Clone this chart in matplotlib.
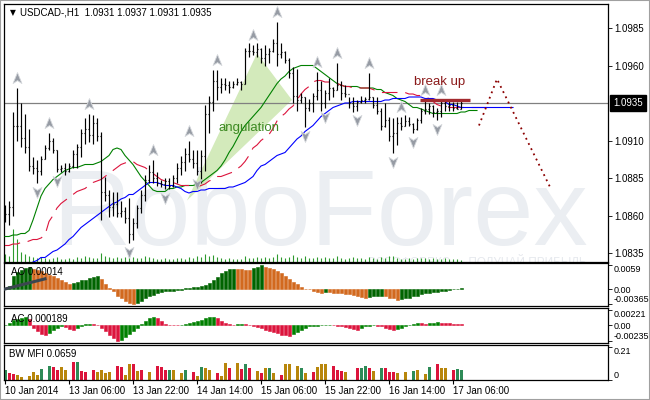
import matplotlib

matplotlib.use("Agg")

import matplotlib.pyplot as plt
import numpy as np
from matplotlib.patches import Polygon, Rectangle
from matplotlib.path import Path
from matplotlib.transforms import blended_transform_factory

# ---- price bars (H1, 10 Jan 14:00 .. 17 Jan 08:00) ----
first_open = 1.0858
highs = [
    1.0867, 1.0870, 1.0929, 1.0945, 1.0935, 1.0928, 1.0918, 1.0899, 1.0897, 1.0900,
    1.0907, 1.0915, 1.0912, 1.0904, 1.0894, 1.0895, 1.0895, 1.0904, 1.0908, 1.0918,
    1.0925, 1.0928, 1.0927, 1.0925, 1.0916, 1.0886, 1.0877, 1.0876, 1.0876, 1.0870,
    1.0866, 1.0872, 1.0858, 1.0867, 1.0877, 1.0887, 1.0894, 1.0897, 1.0889, 1.0884,
    1.0885, 1.0885, 1.0887, 1.0895, 1.0900, 1.0905, 1.0910, 1.0904, 1.0904, 1.0904,
    1.0934, 1.0940, 1.0957, 1.0957, 1.0952, 1.0952, 1.0950, 1.0950, 1.0952, 1.0950,
    1.0972, 1.0975, 1.0974, 1.0975, 1.0972, 1.0974, 1.0972, 1.0978, 1.0989, 1.0975,
    1.0970, 1.0965, 1.0959, 1.0958, 1.0942, 1.0939, 1.0938, 1.0942, 1.0956, 1.0950,
    1.0944, 1.0952, 1.0946, 1.0962, 1.0950, 1.0947, 1.0939, 1.0939, 1.0937, 1.0940,
    1.0939, 1.0955, 1.0939, 1.0939, 1.0932, 1.0935, 1.0926, 1.0925, 1.0926, 1.0926,
    1.0927, 1.0926, 1.0922, 1.0925, 1.0932, 1.0937, 1.0935, 1.0934, 1.0932, 1.0937,
    1.0937, 1.0937, 1.0936, 1.0936, 1.0937,
]
lows = [
    1.0856, 1.0854, 1.0860, 1.0910, 1.0906, 1.0902, 1.0890, 1.0888, 1.0882, 1.0887,
    1.0898, 1.0904, 1.0902, 1.0889, 1.0889, 1.0887, 1.0889, 1.0892, 1.0892, 1.0899,
    1.0908, 1.0909, 1.0908, 1.0910, 1.0857, 1.0870, 1.0859, 1.0860, 1.0859, 1.0859,
    1.0855, 1.0842, 1.0844, 1.0852, 1.0862, 1.0870, 1.0882, 1.0882, 1.0880, 1.0879,
    1.0878, 1.0878, 1.0879, 1.0882, 1.0887, 1.0890, 1.0896, 1.0892, 1.0887, 1.0882,
    1.0890, 1.0915, 1.0930, 1.0937, 1.0942, 1.0944, 1.0942, 1.0945, 1.0947, 1.0944,
    1.0948, 1.0966, 1.0967, 1.0966, 1.0962, 1.0960, 1.0962, 1.0969, 1.0960, 1.0965,
    1.0962, 1.0952, 1.0935, 1.0930, 1.0935, 1.0919, 1.0930, 1.0929, 1.0937, 1.0930,
    1.0932, 1.0937, 1.0939, 1.0944, 1.0937, 1.0939, 1.0932, 1.0929, 1.0930, 1.0935,
    1.0935, 1.0937, 1.0932, 1.0928, 1.0917, 1.0919, 1.0910, 1.0902, 1.0907, 1.0917,
    1.0920, 1.0920, 1.0915, 1.0917, 1.0922, 1.0928, 1.0928, 1.0926, 1.0924, 1.0926,
    1.0930, 1.0930, 1.0930, 1.0931, 1.0931,
]
closes = [
    1.0861, 1.0866, 1.0920, 1.0920, 1.0912, 1.0906, 1.0893, 1.0892, 1.0890, 1.0898,
    1.0905, 1.0910, 1.0904, 1.0891, 1.0892, 1.0890, 1.0893, 1.0901, 1.0906, 1.0915,
    1.0918, 1.0914, 1.0922, 1.0913, 1.0876, 1.0874, 1.0866, 1.0868, 1.0862, 1.0863,
    1.0858, 1.0848, 1.0855, 1.0865, 1.0874, 1.0884, 1.0889, 1.0885, 1.0882, 1.0881,
    1.0883, 1.0880, 1.0885, 1.0892, 1.0896, 1.0901, 1.0898, 1.0895, 1.0890, 1.0900,
    1.0928, 1.0936, 1.0950, 1.0946, 1.0948, 1.0947, 1.0946, 1.0948, 1.0949, 1.0948,
    1.0970, 1.0970, 1.0969, 1.0971, 1.0965, 1.0968, 1.0970, 1.0975, 1.0968, 1.0969,
    1.0964, 1.0955, 1.0940, 1.0937, 1.0939, 1.0932, 1.0935, 1.0940, 1.0944, 1.0935,
    1.0942, 1.0945, 1.0944, 1.0947, 1.0942, 1.0941, 1.0935, 1.0933, 1.0936, 1.0937,
    1.0938, 1.0939, 1.0934, 1.0930, 1.0920, 1.0924, 1.0913, 1.0915, 1.0922, 1.0920,
    1.0923, 1.0921, 1.0918, 1.0924, 1.0930, 1.0931, 1.0933, 1.0929, 1.0930, 1.0935,
    1.0933, 1.0934, 1.0932, 1.0931, 1.0935,
]
tick_volume = [
    8, 6, 33, 23, 10, 8, 6, 5, 4, 5,
    4, 3, 4, 5, 3, 3, 4, 3, 5, 4,
    6, 5, 4, 4, 9, 6, 5, 4, 5, 4,
    5, 6, 5, 4, 4, 6, 5, 4, 3, 3,
    4, 3, 3, 4, 4, 3, 5, 4, 6, 5,
    8, 6, 7, 5, 4, 3, 4, 3, 3, 3,
    6, 4, 4, 5, 4, 5, 4, 5, 8, 5,
    4, 5, 7, 5, 4, 6, 4, 4, 5, 4,
    5, 4, 4, 6, 4, 3, 4, 5, 4, 4,
    3, 5, 4, 3, 5, 4, 6, 6, 4, 3,
    3, 4, 3, 4, 4, 4, 3, 4, 3, 3,
    4, 3, 3, 3, 2,
]

# ---- alligator lines (already shifted forward) ----
lips = [
    1.0846, 1.0846, 1.0847, 1.0847, 1.0848, 1.0848, 1.0850, 1.0857, 1.0865, 1.0873,
    1.0878, 1.0881, 1.0884, 1.0886, 1.0888, 1.0890, 1.0891, 1.0892, 1.0892, 1.0893,
    1.0894, 1.0894, 1.0894, 1.0895, 1.0896, 1.0898, 1.0900, 1.0904, 1.0905, 1.0904,
    1.0900, 1.0897, 1.0894, 1.0890, 1.0886, 1.0883, 1.0880, 1.0877, 1.0876, 1.0876,
    1.0876, 1.0878, 1.0878, 1.0879, 1.0879, 1.0880, 1.0880, 1.0880, 1.0881, 1.0882,
    1.0884, 1.0886, 1.0888, 1.0890, 1.0893, 1.0897, 1.0902, 1.0906, 1.0911, 1.0916,
    1.0920, 1.0923, 1.0926, 1.0929, 1.0932, 1.0936, 1.0940, 1.0944, 1.0948, 1.0951,
    1.0953, 1.0956, 1.0958, 1.0959, 1.0960, 1.0960, 1.0960, 1.0960, 1.0958, 1.0956,
    1.0954, 1.0952, 1.0950, 1.0948, 1.0947, 1.0946, 1.0946, 1.0946, 1.0946, 1.0945,
    1.0945, 1.0945, 1.0945, 1.0944, 1.0944, 1.0942, 1.0941, 1.0940, 1.0938, 1.0937,
    1.0936, 1.0934, 1.0932, 1.0932, 1.0931, 1.0930, 1.0929, 1.0928, 1.0928, 1.0928,
    1.0928, 1.0928, 1.0928, 1.0928, 1.0929, 1.0929, 1.0930, 1.0930, 1.0930,
]
teeth = [
    1.0840, 1.0840, 1.0841, 1.0841, 1.0842, 1.0842, 1.0843, 1.0844, 1.0844, 1.0845,
    1.0847, 1.0856, 1.0860, 1.0865, 1.0868, 1.0870, 1.0872, 1.0874, 1.0876, 1.0877,
    1.0878, 1.0880, 1.0882, 1.0883, 1.0884, 1.0886, 1.0888, 1.0890, 1.0892, 1.0894,
    1.0895, 1.0896, 1.0896, 1.0894, 1.0893, 1.0892, 1.0890, 1.0888, 1.0886, 1.0884,
    1.0883, 1.0882, 1.0882, 1.0881, 1.0880, 1.0880, 1.0880, 1.0879, 1.0879, 1.0880,
    1.0881, 1.0883, 1.0884, 1.0886, 1.0886, 1.0887, 1.0888, 1.0889, 1.0891, 1.0893,
    1.0896, 1.0900, 1.0905, 1.0907, 1.0910, 1.0912, 1.0914, 1.0918, 1.0923, 1.0926,
    1.0928, 1.0931, 1.0933, 1.0937, 1.0941, 1.0944, 1.0946, 1.0949, 1.0950, 1.0950,
    1.0949, 1.0949, 1.0948, 1.0948, 1.0947, 1.0946, 1.0946, 1.0945, 1.0945, 1.0945,
    1.0945, 1.0945, 1.0944, 1.0943, 1.0942, 1.0942, 1.0942, 1.0942, 1.0942, 1.0942,
    1.0942, 1.0941, 1.0941, 1.0940, 1.0940, 1.0939, 1.0938, 1.0936, 1.0934, 1.0933,
    1.0932, 1.0932, 1.0932, 1.0932, 1.0932, 1.0932, 1.0932, 1.0932, 1.0932, 1.0932,
    1.0932, 1.0932,
]
jaw_start = 7
jaw = [
    1.0829, 1.0830, 1.0832, 1.0832, 1.0834, 1.0836, 1.0837, 1.0839, 1.0841, 1.0844,
    1.0846, 1.0849, 1.0852, 1.0854, 1.0856, 1.0858, 1.0860, 1.0862, 1.0864, 1.0866,
    1.0868, 1.0869, 1.0871, 1.0872, 1.0874, 1.0874, 1.0876, 1.0878, 1.0880, 1.0882,
    1.0882, 1.0882, 1.0881, 1.0880, 1.0880, 1.0880, 1.0879, 1.0878, 1.0876, 1.0875,
    1.0876, 1.0876, 1.0877, 1.0877, 1.0878, 1.0878, 1.0878, 1.0878, 1.0878, 1.0879,
    1.0879, 1.0880, 1.0881, 1.0882, 1.0884, 1.0886, 1.0890, 1.0893, 1.0894, 1.0896,
    1.0898, 1.0900, 1.0901, 1.0902, 1.0905, 1.0908, 1.0911, 1.0913, 1.0916, 1.0918,
    1.0920, 1.0923, 1.0926, 1.0928, 1.0930, 1.0932, 1.0933, 1.0934, 1.0935, 1.0935,
    1.0936, 1.0936, 1.0936, 1.0936, 1.0936, 1.0936, 1.0936, 1.0936, 1.0937, 1.0937,
    1.0938, 1.0938, 1.0938, 1.0938, 1.0939, 1.0939, 1.0939, 1.0939, 1.0938, 1.0938,
    1.0938, 1.0937, 1.0936, 1.0936, 1.0934, 1.0934, 1.0933, 1.0932,
    1.0932, 1.0932, 1.0932, 1.0932, 1.0932, 1.0932, 1.0932, 1.0932, 1.0932, 1.0932,
    1.0932, 1.0932, 1.0932,
]

# ---- fractals (bar indices) ----
up_fractals = [3, 11, 21, 37, 46, 53, 62, 68, 78, 83, 91, 99, 105, 109]
down_fractals = [8, 13, 31, 40, 48, 75, 80, 88, 97, 102, 108]

# ---- oscillators ----
ao = [
    0.0003, 0.0008, 0.0031, 0.0043, 0.0047, 0.0052, 0.0055, 0.0050, 0.0047, 0.0044,
    0.0039, 0.0034, 0.0031, 0.0026, 0.0022, 0.0018, 0.0013, 0.0016, 0.0018, 0.0021,
    0.0023, 0.0026, 0.0029, 0.0033, 0.0025, 0.0013, 0.0003, -0.0005, -0.0018, -0.0023,
    -0.0030, -0.0034, -0.00365, -0.0034, -0.0030, -0.0023, -0.0017, -0.0014, -0.0010, -0.0008,
    -0.0006, -0.0005, -0.00045, -0.0003, -0.0002, 0.0002, 0.0003, 0.0004, 0.0005, 0.0007,
    0.0010, 0.0016, 0.0022, 0.0030, 0.0039, 0.0045, 0.0049, 0.0050, 0.0049, 0.00485,
    0.0048, 0.00475, 0.0051, 0.0055, 0.0059, 0.0054, 0.0052, 0.0049, 0.0045, 0.0039,
    0.0031, 0.0025, 0.0018, 0.0012, 0.0005, 0.0001, -0.0001, -0.0004, -0.0008, -0.0009,
    -0.0008, -0.00085, -0.00095, -0.0010, -0.0011, -0.0012, -0.0013, -0.00155, -0.0018, -0.0020,
    -0.0022, -0.0020, -0.0018, -0.00165, -0.0016, -0.0018, -0.0021, -0.0023, -0.0026, -0.0025,
    -0.0023, -0.0021, -0.0018, -0.0016, -0.0013, -0.0011, -0.00095, -0.0008, -0.00065, -0.0005,
    -0.0004, -0.00025, -0.00012, 0.00002, 0.00014,
]
ac = [
    0.00007, 0.0003, 0.0007, 0.0009, 0.0010, 0.0012, 0.0009, -0.0004, -0.0009, -0.0013,
    -0.0015, -0.0012, -0.0007, -0.0004, -0.0002, -0.0003, -0.0006, -0.0007, -0.0004, -0.0002,
    0.0001, 0.0002, 0.00015, 0.00005, -0.0004, -0.0009, -0.0015, -0.0019, -0.00235, -0.0022,
    -0.0018, -0.0013, -0.0009, -0.0004, 0.00015, 0.0006, 0.0010, 0.0012, 0.0010, 0.0006,
    0.00015, 0.00004, 0.00003, 0.00002, 0.00007, 0.00015, 0.0003, 0.00045, 0.00065, 0.0008,
    0.0010, 0.0012, 0.00125, 0.0010, 0.00065, 0.00035, 0.00015, 0.00007, 0.00015, 0.00018,
    0.00012, 0.00004, -0.00015, -0.0003, -0.0005, -0.0007, -0.0009, -0.0010, -0.0012, -0.0014,
    -0.0015, -0.0016, -0.0013, -0.0010, -0.0007, -0.0004, -0.0002, -0.00015, -0.00007, -0.00004,
    -0.00003, 0.00004, 0.00003, -0.00007, -0.00015, -0.0003, -0.00045, -0.0006, -0.0007, -0.00045,
    -0.0002, -0.00007, -0.00004, -0.00007, -0.0002, -0.00045, -0.00065, -0.0008, -0.0006, -0.00045,
    -0.0002, 0.00007, 0.0002, 0.00035, 0.0003, 0.0002, 0.0003, 0.00035, 0.00045, 0.00035,
    0.0003, 0.00025, 0.00022, 0.0002, 0.000189,
]
mfi = [
    0.064, 0.045, 0.038, 0.032, 0.019, 0.096, 0.026, 0.051, 0.032, 0.070,
    0.122, 0.090, 0.083, 0.064, 0.083, 0.064, 0.128, 0.115, 0.115, 0.058,
    0.051, 0.096, 0.064, 0.051, 0.064, 0.045, 0.051, 0.109, 0.090, 0.083,
    0.032, 0.102, 0.102, 0.058, 0.064, 0.198, 0.051, 0.096, 0.090, 0.083,
    0.064, 0.064, 0.064, 0.077, 0.045, 0.064, 0.051, 0.051, 0.026, 0.083,
    0.077, 0.064, 0.102, 0.045, 0.026, 0.109, 0.077, 0.115, 0.109, 0.070,
    0.102, 0.077, 0.115, 0.058, 0.045, 0.077, 0.077, 0.045, 0.051, 0.032,
    0.102, 0.102, 0.128, 0.090, 0.077, 0.045, 0.058, 0.051, 0.083, 0.102,
    0.102, 0.128, 0.090, 0.064, 0.058, 0.051, 0.058, 0.083, 0.077, 0.077,
    0.090, 0.077, 0.058, 0.064, 0.077, 0.077, 0.051, 0.051, 0.045, 0.051,
    0.051, 0.051, 0.058, 0.064, 0.045, 0.038, 0.083, 0.128, 0.102, 0.077,
    0.077, 0.115, 0.064, 0.070, 0.0659,
]
# g = green, r = squat, y = fade, b = fake
mfi_kind = (
    "grryybyyyg" "bgrryybrgr" "rbryyyybrr" "yyryrbybrr" "rgybygbryg"
    "yybryyrbyr" "grbyrygybr" "yybygybryy" "ybrrrybbrg" "grybgrrryb"
    "ybgybygbry" "ybrgg"
)

# ---- annotations ----
angle_idx = [45.5, 63.0, 71.75]
angle_price = [1.0870, 1.0968, 1.0937]
breakup_idx = [103.75, 116.25]
breakup_price = 1.0937
forecast_idx = [118.5, 123.0, 136.25]
forecast_price = [1.0920, 1.0951, 1.0879]
ao_div_idx = [0, 10]
ao_div_val = [0.0000, 0.0025]

price_ticks = [1.0835, 1.0860, 1.0885, 1.0910, 1.0960, 1.0985]
time_tick_idx = [0, 16, 32, 48, 64, 80, 96, 112]
time_tick_labels = ["10 Jan 2014", "13 Jan 06:00", "13 Jan 22:00", "14 Jan 14:00",
                    "15 Jan 06:00", "15 Jan 22:00", "16 Jan 14:00", "17 Jan 06:00"]

W, H = 650, 400
FS = 7


def px_rect(x0, y0, x1, y1):
    return [x0 / W, 1 - y1 / H, (x1 - x0) / W, (y1 - y0) / H]


plt.rcParams["font.family"] = ["Liberation Sans", "DejaVu Sans"]

fig = plt.figure(figsize=(W / 100, H / 100), dpi=100)
ax = fig.add_axes(px_rect(4, 4, 608, 262))
ao_ax = fig.add_axes(px_rect(4, 263, 608, 306), sharex=ax)
ac_ax = fig.add_axes(px_rect(4, 308, 608, 343), sharex=ax)
mfi_ax = fig.add_axes(px_rect(4, 345, 608, 380), sharex=ax)

for a in (ax, ao_ax, ac_ax, mfi_ax):
    for s in a.spines.values():
        s.set_linewidth(0.9)
        s.set_color("black")
    a.yaxis.tick_right()
    a.tick_params(axis="y", direction="out", length=3, width=0.6, pad=1.5,
                  labelsize=FS, colors="black")
    a.tick_params(axis="x", bottom=False, labelbottom=False)
for a in (ao_ax, ac_ax, mfi_ax):
    a.tick_params(axis="y", pad=0.8, labelsize=6.5)

ax.set_xlim(-0.25, 150.75)

# ---- main chart ----
idx = np.arange(len(highs))
opens = [first_open] + closes[:-1]
hi = np.array(highs)
lo = np.array(lows)

ax.text(0.523, 0.066, "RoboForex", transform=ax.transAxes, fontsize=78,
        color="#ebeef2", ha="center", va="baseline", zorder=0)
ax.text(0.965, -0.014, "РОБОФОРЕКС — ПОЛУЧАЙ ПРИБЫЛЬ", transform=ax.transAxes,
        fontsize=8.5, color="#e6e9ee", ha="right", va="baseline", zorder=0, clip_on=True)

ax.add_patch(Polygon(list(zip(angle_idx, angle_price)), closed=True,
                     facecolor="#d3eabb", edgecolor="none", zorder=1))

ax.vlines(idx, 0, np.array(tick_volume) / (max(tick_volume) * 7.8),
          transform=ax.get_xaxis_transform(), color="#2e9b2e", lw=0.8, zorder=1)

ax.axhline(closes[-1], color="#808080", lw=0.9, zorder=2)

ax.plot(np.arange(len(lips)), lips, color="#008000", lw=0.8, zorder=3)
ax.plot(np.arange(len(teeth)), teeth, color="#dc143c", lw=0.8, dashes=(14, 7), zorder=3)
ax.plot(np.arange(len(jaw)) + jaw_start, jaw, color="#0000ff", lw=0.8, zorder=3)

ax.vlines(idx, lo, hi, color="black", lw=0.85, zorder=4)
ax.hlines(opens, idx - 0.35, idx, color="black", lw=0.85, zorder=4)
ax.hlines(closes, idx, idx + 0.35, color="black", lw=0.85, zorder=4)

up_marker = Path([(0, 1), (0.75, -0.85), (0, -0.35), (-0.75, -0.85), (0, 1)],
                 [Path.MOVETO, Path.LINETO, Path.LINETO, Path.LINETO, Path.CLOSEPOLY])
down_marker = Path([(0, -1), (0.75, 0.85), (0, 0.35), (-0.75, 0.85), (0, -1)],
                   [Path.MOVETO, Path.LINETO, Path.LINETO, Path.LINETO, Path.CLOSEPOLY])
ax.plot(up_fractals, hi[up_fractals] + 0.00066, ls="none", marker=up_marker, ms=8.5,
        mfc="#969ba4", mec="#d3d6da", mew=0.6, zorder=5)
ax.plot(down_fractals, lo[down_fractals] - 0.00062, ls="none", marker=down_marker, ms=8.5,
        mfc="#969ba4", mec="#d3d6da", mew=0.6, zorder=5)

ax.hlines(breakup_price, breakup_idx[0], breakup_idx[1], color="#a3292e", lw=2.4, zorder=5)
ax.plot(forecast_idx, forecast_price, color="#8b0000", lw=1.3, ls=(0, (1, 2.2)), zorder=5)

ax.text(61, 1.09183, "angulation", color="#3d8a22", fontsize=9.5, ha="center",
        va="center", zorder=6)
ax.text(108.75, 1.0949, "break up", color="#8b1a1a", fontsize=9.5, ha="center",
        va="center", zorder=6)

ax.set_ylim(1.0829, 1.1001)
ax.set_yticks(price_ticks)
ax.set_yticklabels([f"{p:.4f}" for p in price_ticks])
ax.text(1 + 5 / 604, closes[-1], f"{closes[-1]:.4f}",
        transform=blended_transform_factory(ax.transAxes, ax.transData),
        ha="left", va="center", color="white", fontsize=FS, clip_on=False, zorder=7,
        bbox=dict(boxstyle="square,pad=0.3", fc="black", ec="black"))

fig.text(10 / W, 1 - 12.5 / H, "▼", fontsize=5.5, va="center", family=["DejaVu Sans"])
fig.text(20 / W, 1 - 12.5 / H, "USDCAD-,H1  1.0931 1.0937 1.0931 1.0935",
         fontsize=FS, va="center")

# ---- AO ----
ao_colors = ["#006400" if i == 0 or ao[i] > ao[i - 1] else "#d2691e" for i in range(len(ao))]
ao_ax.bar(idx, ao, width=0.75, color=ao_colors, edgecolor=ao_colors, lw=0.4)
ao_ax.plot(ao_div_idx, ao_div_val, color="#3c4650", lw=2.2, zorder=3)
ao_ax.set_ylim(-0.00418, 0.0064)
ao_ax.set_yticks([0.0059, 0.0, -0.00365])
ao_ax.set_yticklabels(["0.0059", "0.00", "-0.00365"])
ao_ax.text(0.012, 0.78, f"AO {ao[-1]:.5f}", transform=ao_ax.transAxes, fontsize=FS, va="center")

# ---- AC ----
ac_colors = ["#008000" if i == 0 or ac[i] > ac[i - 1] else "#dc143c" for i in range(len(ac))]
ac_ax.bar(idx, ac, width=0.75, color=ac_colors, edgecolor=ac_colors, lw=0.4)
ac_ax.set_ylim(-0.00264, 0.00250)
ac_ax.set_yticks([0.00221, 0.0, -0.00235])
ac_ax.set_yticklabels(["0.00221", "0.00", "-0.00235"])
ac_ax.text(0.012, 0.70, f"AC {ac[-1]:.6f}", transform=ac_ax.transAxes, fontsize=FS, va="center")

# ---- BW MFI ----
kind_color = {"g": "#2e8b57", "r": "#dc143c", "y": "#b8860b", "b": "#0000cd"}
mfi_arr = np.array(mfi)
for kind, col in kind_color.items():
    sel = np.array([k == kind for k in mfi_kind])
    width = 0.22 if kind == "b" else 0.75
    mfi_ax.bar(idx[sel], mfi_arr[sel], width=width, color=col, edgecolor="none")
mfi_ax.set_ylim(0, 0.2227)
mfi_ax.set_yticks([0.21, 0.0])
mfi_ax.set_yticklabels(["0.21", "0"])
mfi_ax.text(0.008, 0.74, f"BW MFI {mfi[-1]:.4f}", transform=mfi_ax.transAxes, fontsize=FS,
            va="center")

for a in (ao_ax, ac_ax, mfi_ax):
    ticks = a.yaxis.get_major_ticks()
    ticks[0].label2.set_va("top")
    ticks[-1].label2.set_va("bottom")

mfi_ax.set_xticks(time_tick_idx)
mfi_ax.set_xticklabels(time_tick_labels)
mfi_ax.tick_params(axis="x", bottom=True, labelbottom=True, direction="out", length=3,
                   width=0.8, pad=1.5, labelsize=FS)
for lbl in mfi_ax.get_xticklabels():
    lbl.set_ha("left")

fig.add_artist(Rectangle((0, 0), 1, 1, transform=fig.transFigure, fill=False,
                         ec="#a0a0a0", lw=1.5))

fig.savefig("out.png", dpi=100)
